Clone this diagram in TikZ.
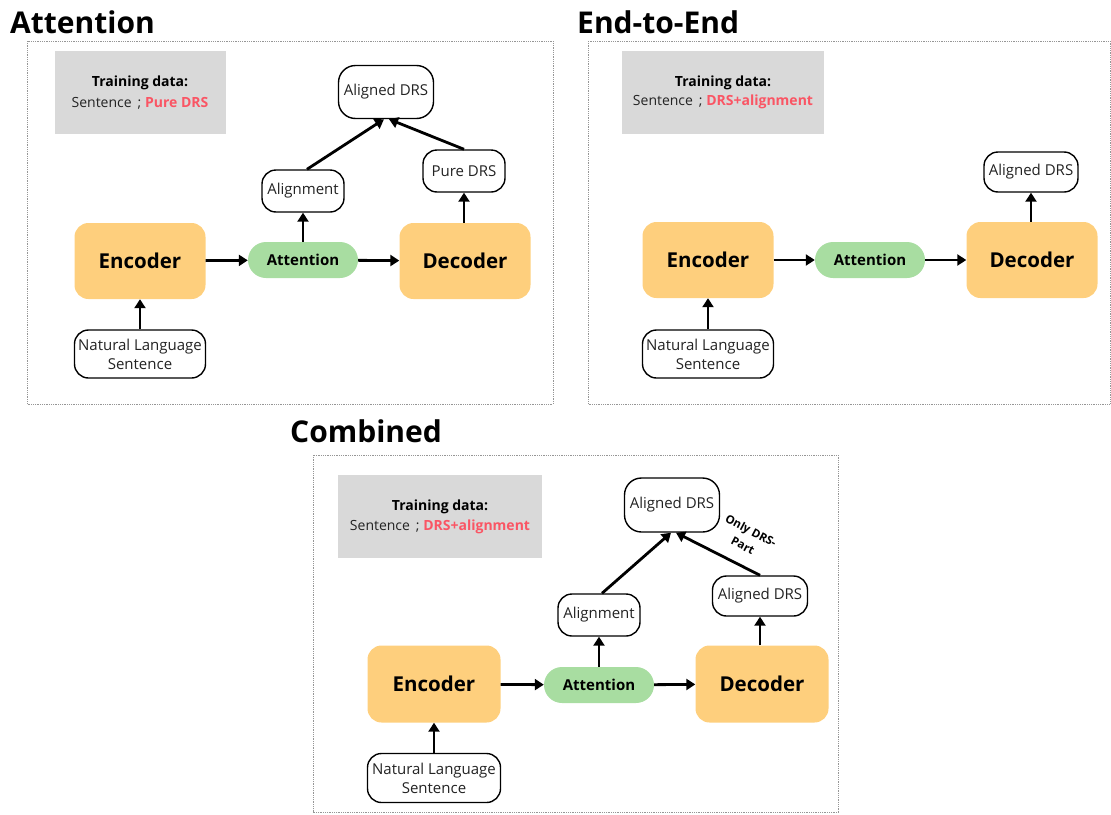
\documentclass[tikz,border=0pt]{standalone}
\usepackage{fontspec}
\setmainfont{Open Sans}
\usetikzlibrary{arrows.meta}
\definecolor{orng}{RGB}{254,207,125}
\definecolor{grn}{RGB}{168,221,161}
\definecolor{gbox}{RGB}{217,217,217}
\definecolor{redt}{RGB}{250,85,100}
\definecolor{frm}{RGB}{150,150,150}
\definecolor{txt}{RGB}{35,35,35}
\begin{document}
\begin{tikzpicture}[x=1pt,y=-1pt,
 wbox/.style={draw=black, line width=1.4pt, fill=white, rounded corners=14pt, inner sep=0pt, align=center, text=txt, font=\fontsize{15}{19}\selectfont},
 obox/.style={fill=orng, rounded corners=14pt, minimum width=131pt, minimum height=76pt, inner sep=0pt, font=\fontsize{20.5}{24}\selectfont\bfseries},
 gnode/.style={fill=grn, rounded corners=18pt, minimum width=110pt, minimum height=36pt, inner sep=0pt, font=\fontsize{15}{18}\selectfont\bfseries},
 tbox/.style={fill=gbox, inner sep=0pt},
 ttl/.style={anchor=base west, inner sep=0pt, font=\fontsize{30}{36}\selectfont\bfseries},
 framebox/.style={draw=frm, line width=0.8pt, dash pattern=on 0.8pt off 1pt},
 arr/.style={draw=black, line width=2.8pt, -{Triangle[length=9pt,width=11pt]}},
 tdat/.style={inner sep=0pt, text=txt, font=\fontsize{14}{17}\selectfont},
 tdatb/.style={inner sep=0pt, text=black, font=\fontsize{14}{17}\selectfont\bfseries}
]
\useasboundingbox (0,0) rectangle (1111,814);

% ---------- Panel 1: Attention ----------
\node[ttl] (title1) at (10,33) {Attention};
\draw[framebox] (27,41) rectangle (553,404);
\node[tbox, minimum width=171pt, minimum height=83pt] (g1) at (140.5,92.5) {};
\node[tdatb] (g1a) at (140,83) {Training data:};
\node[tdat] (g1b) at (140,103) {Sentence\, ; \textcolor{redt}{\bfseries Pure DRS}};

\node[wbox, minimum width=95pt, minimum height=53pt, rounded corners=17pt] (ad1) at (386,92) {Aligned DRS};
\node[wbox, minimum width=82pt, minimum height=42pt] (al1) at (303,191) {Alignment};
\node[wbox, minimum width=82pt, minimum height=42pt] (pd1) at (464,171) {Pure DRS};
\node[obox] (enc1) at (140,261) {Encoder};
\node[gnode] (att1) at (303,260) {Attention};
\node[obox] (dec1) at (465,261) {Decoder};
\node[wbox, minimum width=131pt, minimum height=48pt] (nl1) at (140,354) {Natural Language\\Sentence};

\draw[arr] (nl1) -- (enc1);
\draw[arr] (enc1) -- (att1);
\draw[arr] (att1) -- (dec1);
\draw[arr] (att1) -- (al1);
\draw[arr] (dec1.north -| pd1.south) -- (pd1.south);
\draw[arr] ([xshift=4pt]al1.north) -- ([xshift=-2pt]ad1.south);
\draw[arr] (pd1.north) -- ([xshift=3pt]ad1.south);

% ---------- Panel 2: End-to-End ----------
\node[ttl] (title2) at (577,33) {End-to-End};
\draw[framebox] (588,41) rectangle (1110,404);
\node[tbox, minimum width=202pt, minimum height=83pt] (g2) at (723,92.5) {};
\node[tdatb] (g2a) at (723,83) {Training data:};
\node[tdat] (g2b) at (723,102) {Sentence\, ; \textcolor{redt}{\bfseries DRS+alignment}};

\node[wbox, minimum width=94pt, minimum height=40pt] (ad2) at (1031,172) {Aligned DRS};
\node[obox] (enc2) at (708,260) {Encoder};
\node[gnode] (att2) at (870,260) {Attention};
\node[obox] (dec2) at (1032,260) {Decoder};
\node[wbox, minimum width=131pt, minimum height=48pt] (nl2) at (708,354) {Natural Language\\Sentence};

\draw[arr] (nl2) -- (enc2);
\draw[arr] (enc2) -- (att2);
\draw[arr] (att2) -- (dec2);
\draw[arr] (dec2.north -| ad2.south) -- (ad2.south);

% ---------- Panel 3: Combined ----------
\node[ttl] (title3) at (290,442) {Combined};
\draw[framebox] (313,455) rectangle (838,812);
\node[tbox, minimum width=204pt, minimum height=83pt] (g3) at (440,516.5) {};
\node[tdatb] (g3a) at (440,507) {Training data:};
\node[tdat] (g3b) at (440,527) {Sentence\, ; \textcolor{redt}{\bfseries DRS+alignment}};

\node[wbox, minimum width=95pt, minimum height=54pt, rounded corners=17pt] (ad3) at (672,505) {Aligned DRS};
\node[wbox, minimum width=82pt, minimum height=42pt] (al3) at (599,615) {Alignment};
\node[wbox, minimum width=95pt, minimum height=40pt] (ad3b) at (760,596) {Aligned DRS};
\node[obox, minimum width=133pt, minimum height=77pt] (enc3) at (434,684) {Encoder};
\node[gnode] (att3) at (599,685) {Attention};
\node[obox, minimum width=133pt, minimum height=77pt] (dec3) at (762,684) {Decoder};
\node[wbox, minimum width=133pt, minimum height=49pt] (nl3) at (434,778) {Natural Language\\Sentence};

\draw[arr] (nl3) -- (enc3);
\draw[arr] (enc3) -- (att3);
\draw[arr] (att3) -- (dec3);
\draw[arr] (att3.north -| al3.south) -- (al3.south);
\draw[arr] (dec3.north -| ad3b.south) -- (ad3b.south);
\draw[arr] ([xshift=3pt]al3.north) -- ([xshift=-1pt]ad3.south);
\draw[arr] (ad3b.north) -- ([xshift=4pt]ad3.south);
\node[rotate=-28, align=center, inner sep=0pt, font=\fontsize{11.5}{17}\selectfont\bfseries] (lbl3) at (747,538) {Only DRS-\\Part};
\end{tikzpicture}
\end{document}
